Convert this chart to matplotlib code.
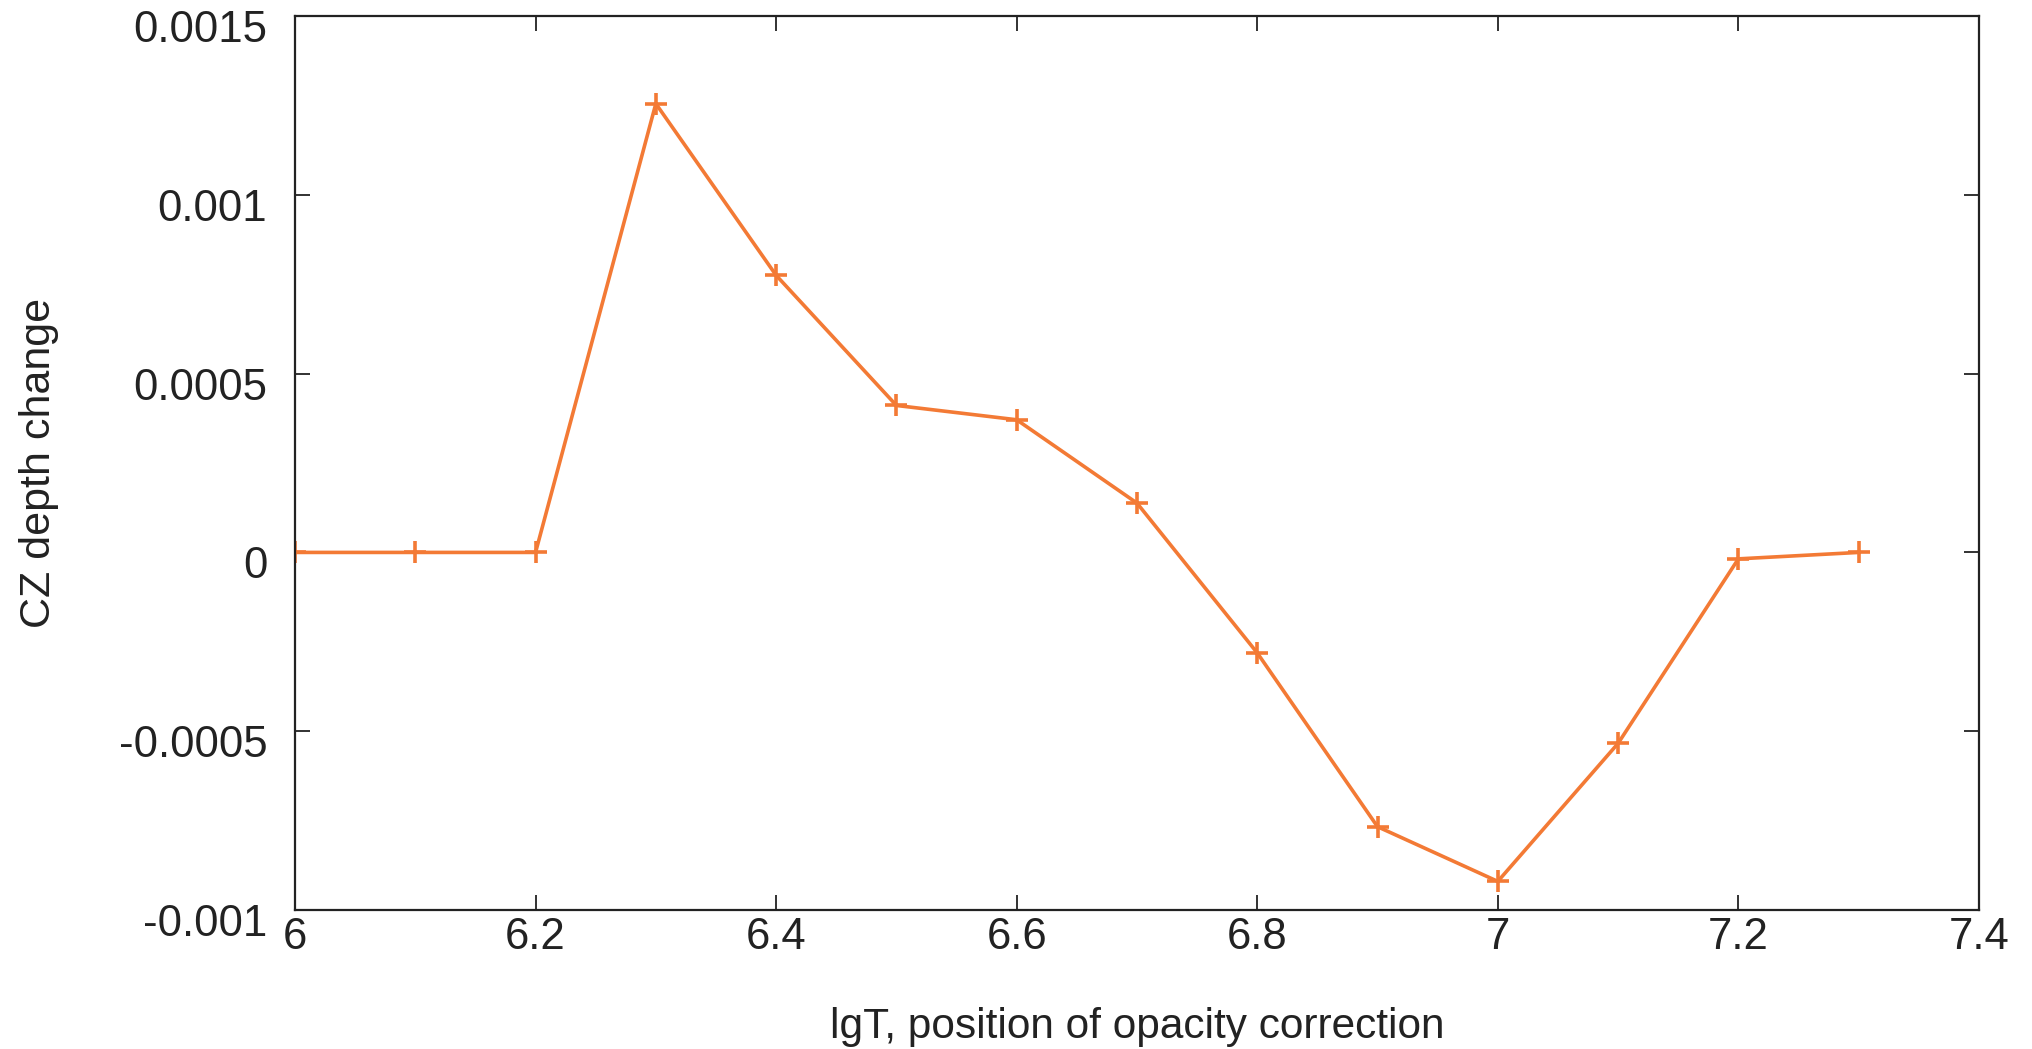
import matplotlib
matplotlib.use("Agg")
import matplotlib.pyplot as plt
from matplotlib.transforms import ScaledTranslation

lgT = [6.0, 6.1, 6.2, 6.3, 6.4, 6.5, 6.6, 6.7, 6.8, 6.9, 7.0, 7.1, 7.2, 7.3]
dcz = [0.0, 0.0, 0.0, 0.001255, 0.000775, 0.000411, 0.000371, 0.000138,
       -0.000281, -0.000767, -0.000920, -0.000534, -0.000018, 0.0]

xticks = [6, 6.2, 6.4, 6.6, 6.8, 7, 7.2, 7.4]
xticklabels = ["6", "6.2", "6.4", "6.6", "6.8", "7", "7.2", "7.4"]
yticks = [-0.001, -0.0005, 0, 0.0005, 0.001, 0.0015]
yticklabels = ["-0.001", "-0.0005", "0", "0.0005", "0.001", "0.0015"]

plt.rcParams['font.family'] = ['Liberation Sans', 'DejaVu Sans']

fig = plt.figure(figsize=(20.33, 10.49), dpi=100)
ax = fig.add_axes([0.1451, 0.1325, 0.8283, 0.8522])

ax.plot(lgT, dcz, color='#f37a35', lw=2.6, marker='+', ms=16, mew=2.6)

ax.set_xlim(6, 7.4)
ax.set_ylim(-0.001, 0.0015)
ax.set_xticks(xticks)
ax.set_xticklabels(xticklabels)
ax.set_yticks(yticks)
ax.set_yticklabels(yticklabels)

ax.tick_params(direction='in', top=True, right=True, length=11, width=1.3,
               labelsize=31.5, colors='#222222')
ax.tick_params(axis='x', pad=5)
ax.tick_params(axis='y', pad=20)
# gnuplot-style: y labels sit a little below their ticks
shift = ScaledTranslation(0, -10 / 100, fig.dpi_scale_trans)
for lab in ax.get_yticklabels():
    lab.set_transform(lab.get_transform() + shift)

for s in ax.spines.values():
    s.set_linewidth(1.6)
    s.set_color('#222222')

ax.set_xlabel("lgT, position of opacity correction", fontsize=30.5, color='#222222', labelpad=35)
ax.set_ylabel("CZ depth change", fontsize=31, color='#222222', labelpad=43)

fig.savefig("out.png", dpi=100)
